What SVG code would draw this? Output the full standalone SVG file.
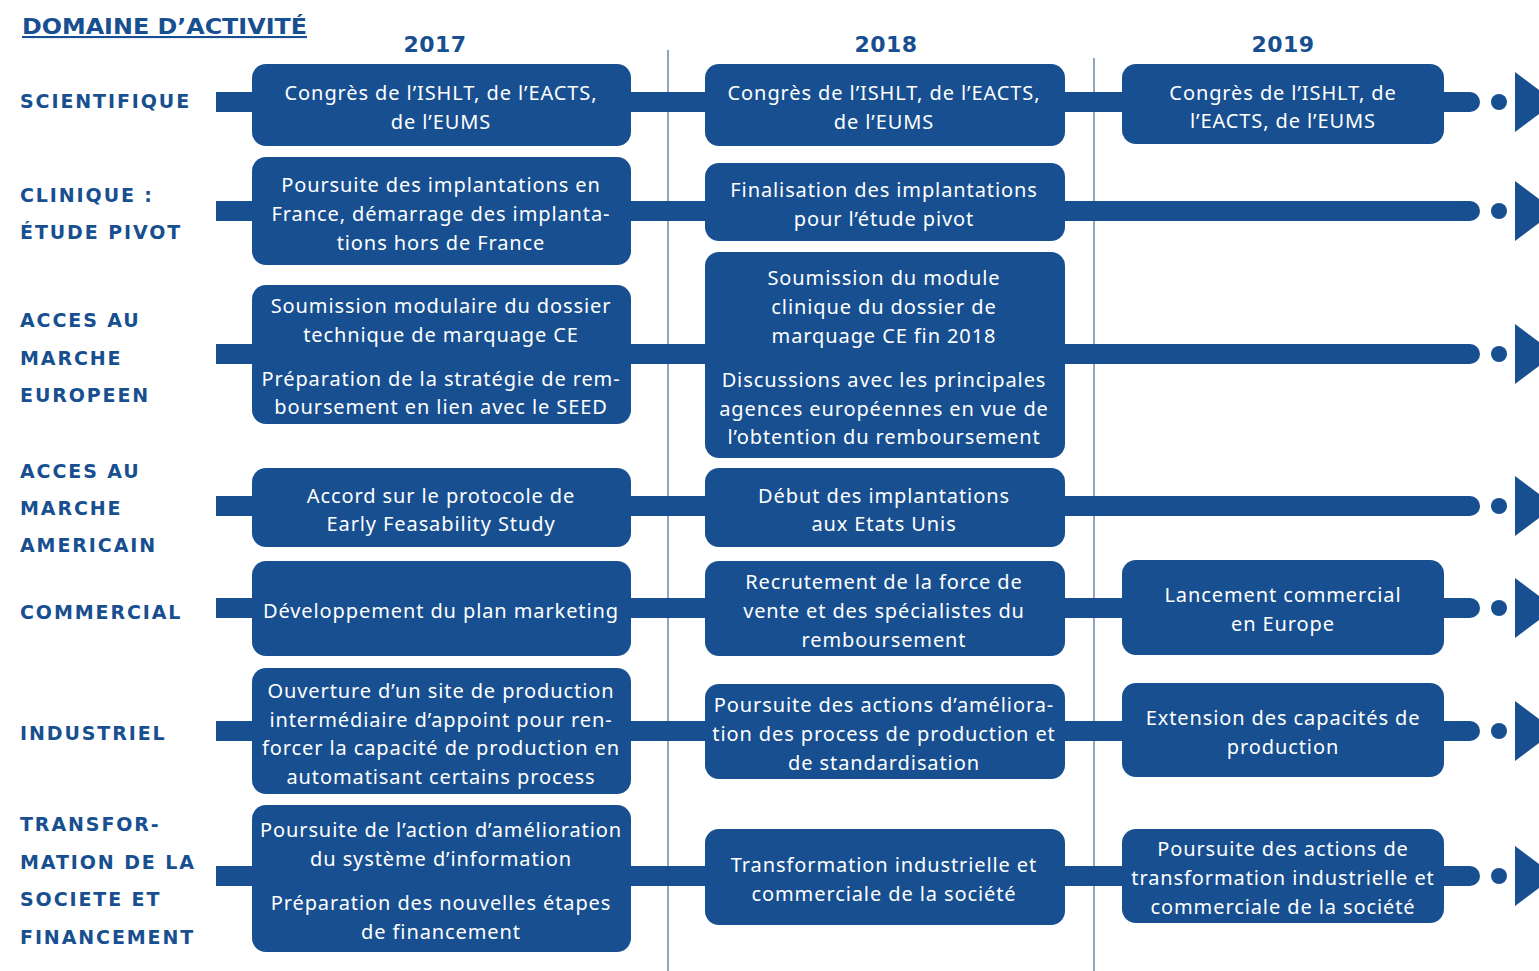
<svg xmlns="http://www.w3.org/2000/svg" width="1539" height="971" viewBox="0 0 1539 971">
<style>
.bx{fill:#174f90}
.bar{fill:#174f90}
.t{font-family:"Noto Sans","Liberation Sans",sans-serif;font-size:20px;fill:#ffffff;text-anchor:middle;letter-spacing:0.9px}
.lb{font-family:"DejaVu Sans","Liberation Sans",sans-serif;font-weight:bold;font-size:19px;fill:#174f90;letter-spacing:1.9px}
.yr{font-family:"DejaVu Sans","Liberation Sans",sans-serif;font-weight:bold;font-size:22px;fill:#174f90;text-anchor:middle;letter-spacing:0.5px}
.vl{stroke:#6a89ab;stroke-width:1.5}
</style>
<rect width="1539" height="971" fill="#ffffff"/>
<g id="header">
<text x="22" y="34" class="lb" style="font-size:21px;text-decoration:underline;letter-spacing:0" textLength="285" lengthAdjust="spacingAndGlyphs">DOMAINE D’ACTIVITÉ</text>
<text x="435" y="52" class="yr">2017</text>
<text x="886" y="52" class="yr">2018</text>
<text x="1283" y="52" class="yr">2019</text>
</g>
<g id="dividers">
<line x1="668" y1="50" x2="668" y2="971" class="vl"/>
<line x1="1094" y1="58" x2="1094" y2="971" class="vl"/>
</g>
<g id="connectors">
<g id="lane1"><rect x="216" y="92" width="1254" height="20" class="bar"/><circle cx="1470" cy="102" r="10" class="bar"/><circle cx="1499" cy="102" r="8" class="bar"/><polygon points="1515,72 1515,132 1555,102" class="bar"/></g>
<g id="lane2"><rect x="216" y="201" width="1254" height="20" class="bar"/><circle cx="1470" cy="211" r="10" class="bar"/><circle cx="1499" cy="211" r="8" class="bar"/><polygon points="1515,181 1515,241 1555,211" class="bar"/></g>
<g id="lane3"><rect x="216" y="344" width="1254" height="20" class="bar"/><circle cx="1470" cy="354" r="10" class="bar"/><circle cx="1499" cy="354" r="8" class="bar"/><polygon points="1515,324 1515,384 1555,354" class="bar"/></g>
<g id="lane4"><rect x="216" y="496" width="1254" height="20" class="bar"/><circle cx="1470" cy="506" r="10" class="bar"/><circle cx="1499" cy="506" r="8" class="bar"/><polygon points="1515,476 1515,536 1555,506" class="bar"/></g>
<g id="lane5"><rect x="216" y="598" width="1254" height="20" class="bar"/><circle cx="1470" cy="608" r="10" class="bar"/><circle cx="1499" cy="608" r="8" class="bar"/><polygon points="1515,578 1515,638 1555,608" class="bar"/></g>
<g id="lane6"><rect x="216" y="721" width="1254" height="20" class="bar"/><circle cx="1470" cy="731" r="10" class="bar"/><circle cx="1499" cy="731" r="8" class="bar"/><polygon points="1515,701 1515,761 1555,731" class="bar"/></g>
<g id="lane7"><rect x="216" y="866" width="1254" height="20" class="bar"/><circle cx="1470" cy="876" r="10" class="bar"/><circle cx="1499" cy="876" r="8" class="bar"/><polygon points="1515,846 1515,906 1555,876" class="bar"/></g>
</g>
<g id="labels">
<text x="20" y="108" class="lb">SCIENTIFIQUE</text>
<text x="20" y="202" class="lb">CLINIQUE :</text>
<text x="20" y="239" class="lb">ÉTUDE PIVOT</text>
<text x="20" y="327" class="lb">ACCES AU</text>
<text x="20" y="365" class="lb">MARCHE</text>
<text x="20" y="402" class="lb">EUROPEEN</text>
<text x="20" y="478" class="lb">ACCES AU</text>
<text x="20" y="515" class="lb">MARCHE</text>
<text x="20" y="552" class="lb">AMERICAIN</text>
<text x="20" y="619" class="lb">COMMERCIAL</text>
<text x="20" y="740" class="lb">INDUSTRIEL</text>
<text x="20" y="831" class="lb">TRANSFOR-</text>
<text x="20" y="869" class="lb">MATION DE LA</text>
<text x="20" y="906" class="lb">SOCIETE ET</text>
<text x="20" y="944" class="lb">FINANCEMENT</text>
</g>
<g id="n2017-1"><rect x="252" y="64" width="379" height="82" rx="14" class="bx"/><text class="t" x="441" y="100">Congrès de l’ISHLT, de l’EACTS,</text><text class="t" x="441" y="129">de l’EUMS</text></g>
<g id="n2017-2"><rect x="252" y="157" width="379" height="108" rx="14" class="bx"/><text class="t" x="441" y="192">Poursuite des implantations en</text><text class="t" x="441" y="221">France, démarrage des implanta-</text><text class="t" x="441" y="250">tions hors de France</text></g>
<g id="n2017-3"><rect x="252" y="285" width="379" height="139" rx="14" class="bx"/><text class="t" x="441" y="313">Soumission modulaire du dossier</text><text class="t" x="441" y="342">technique de marquage CE</text><text class="t" x="441" y="386">Préparation de la stratégie de rem-</text><text class="t" x="441" y="414">boursement en lien avec le SEED</text></g>
<g id="n2017-4"><rect x="252" y="468" width="379" height="79" rx="14" class="bx"/><text class="t" x="441" y="503">Accord sur le protocole de</text><text class="t" x="441" y="531">Early Feasability Study</text></g>
<g id="n2017-5"><rect x="252" y="561" width="379" height="95" rx="14" class="bx"/><text class="t" x="441" y="618">Développement du plan marketing</text></g>
<g id="n2017-6"><rect x="252" y="668" width="379" height="126" rx="14" class="bx"/><text class="t" x="441" y="698">Ouverture d’un site de production</text><text class="t" x="441" y="727">intermédiaire d’appoint pour ren-</text><text class="t" x="441" y="755">forcer la capacité de production en</text><text class="t" x="441" y="784">automatisant certains process</text></g>
<g id="n2017-7"><rect x="252" y="805" width="379" height="147" rx="14" class="bx"/><text class="t" x="441" y="837">Poursuite de l’action d’amélioration</text><text class="t" x="441" y="866">du système d’information</text><text class="t" x="441" y="910">Préparation des nouvelles étapes</text><text class="t" x="441" y="939">de financement</text></g>
<g id="n2018-1"><rect x="705" y="64" width="360" height="82" rx="14" class="bx"/><text class="t" x="884" y="100">Congrès de l’ISHLT, de l’EACTS,</text><text class="t" x="884" y="129">de l’EUMS</text></g>
<g id="n2018-2"><rect x="705" y="163" width="360" height="78" rx="14" class="bx"/><text class="t" x="884" y="197">Finalisation des implantations</text><text class="t" x="884" y="226">pour l’étude pivot</text></g>
<g id="n2018-3"><rect x="705" y="252" width="360" height="206" rx="14" class="bx"/><text class="t" x="884" y="285">Soumission du module</text><text class="t" x="884" y="314">clinique du dossier de</text><text class="t" x="884" y="343">marquage CE fin 2018</text><text class="t" x="884" y="387">Discussions avec les principales</text><text class="t" x="884" y="416">agences européennes en vue de</text><text class="t" x="884" y="444">l’obtention du remboursement</text></g>
<g id="n2018-4"><rect x="705" y="468" width="360" height="79" rx="14" class="bx"/><text class="t" x="884" y="503">Début des implantations</text><text class="t" x="884" y="531">aux Etats Unis</text></g>
<g id="n2018-5"><rect x="705" y="561" width="360" height="95" rx="14" class="bx"/><text class="t" x="884" y="589">Recrutement de la force de</text><text class="t" x="884" y="618">vente et des spécialistes du</text><text class="t" x="884" y="647">remboursement</text></g>
<g id="n2018-6"><rect x="705" y="684" width="360" height="95" rx="14" class="bx"/><text class="t" x="884" y="712">Poursuite des actions d’améliora-</text><text class="t" x="884" y="741">tion des process de production et</text><text class="t" x="884" y="770">de standardisation</text></g>
<g id="n2018-7"><rect x="705" y="829" width="360" height="96" rx="14" class="bx"/><text class="t" x="884" y="872">Transformation industrielle et</text><text class="t" x="884" y="901">commerciale de la société</text></g>
<g id="n2019-1"><rect x="1122" y="64" width="322" height="80" rx="14" class="bx"/><text class="t" x="1283" y="100">Congrès de l’ISHLT, de</text><text class="t" x="1283" y="128">l’EACTS, de l’EUMS</text></g>
<g id="n2019-5"><rect x="1122" y="560" width="322" height="95" rx="14" class="bx"/><text class="t" x="1283" y="602">Lancement commercial</text><text class="t" x="1283" y="631">en Europe</text></g>
<g id="n2019-6"><rect x="1122" y="683" width="322" height="94" rx="14" class="bx"/><text class="t" x="1283" y="725">Extension des capacités de</text><text class="t" x="1283" y="754">production</text></g>
<g id="n2019-7"><rect x="1122" y="829" width="322" height="94" rx="14" class="bx"/><text class="t" x="1283" y="856">Poursuite des actions de</text><text class="t" x="1283" y="885">transformation industrielle et</text><text class="t" x="1283" y="914">commerciale de la société</text></g>
</svg>
